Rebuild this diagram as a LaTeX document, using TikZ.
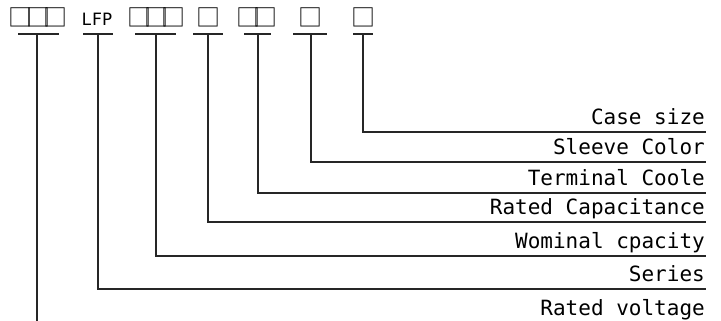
\documentclass[tikz,border=0pt]{standalone}
\usepackage{fontspec}
\setmonofont{DejaVu Sans Mono}
\newfontfamily\sqfont{Noto Sans CJK SC}
\tikzset{
    every node/.style={inner sep=0pt, font=\ttfamily}
}
\tikzset{
    code/.style={anchor=base, font=\fontsize{17}{17}\selectfont\ttfamily},
    slot/.style={anchor=base, font=\fontsize{24}{24}\selectfont\sqfont},
    item/.style={anchor=south east, text depth=0pt, inner xsep=1pt,
    	inner ysep=7pt, font=\fontsize{21}{21}\selectfont\ttfamily}
}
\tikzset{
    wire/.style={line width=1.3pt, draw=black!85}
}

\begin{document}
\begin{tikzpicture}[x=1pt,y=-1pt]
	\useasboundingbox (0,0) rectangle (721,321);
	\node (c1) [slot] at (38,27) {□\kern-7pt□\kern-7pt□};
	\node (c2) [code] at (97,26) {LFP};
	\node (c3) [slot] at (156,27) {□\kern-7pt□\kern-7pt□};
	\node (c4) [slot] at (208,27) {□};
	\node (c5) [slot] at (257,27) {□\kern-7pt□};
	\node (c6) [slot] at (310,27) {□};
	\node (c7) [slot] at (363,27) {□};
	
	\coordinate (b1) at (37,34); \coordinate (b2) at (98,34);
	\coordinate (b3) at (156,34); \coordinate (b4) at (208,34);
	\coordinate (b5) at (258,34); \coordinate (b6) at (311,34);
	\coordinate (b7) at (363,34); \coordinate (e1) at (37,321);
	
	\draw [wire] (18,34) -- (59,34); \draw [wire] (83,34) -- (113,34);
	\draw [wire] (135,34) -- (176,34); \draw [wire] (193,34) -- (223,34);
	\draw [wire] (244,34) -- (271,34); \draw [wire] (293,34) -- (327,34);
	\draw [wire] (353,34) -- (373,34);
	
	\node (l7) [item] at (706,132) {Case size};
	\node (l6) [item] at (706,162) {Sleeve Color};
	\node (l5) [item] at (706,193) {Terminal Coole};
	\node (l4) [item] at (706,222) {Rated Capacitance};
	\node (l3) [item] at (706,256) {Wominal cpacity};
	\node (l2) [item] at (706,289) {Series};
	\node (l1) [item] at (706,323) {Rated voltage};
	
	\draw [wire] (b7) |- (l7.south east); \draw [wire] (b6) |- (l6.south east);
	\draw [wire] (b5) |- (l5.south east); \draw [wire] (b4) |- (l4.south east);
	\draw [wire] (b3) |- (l3.south east); \draw [wire] (b2) |- (l2.south east);
	\draw [wire] (b1) -- (e1);
\end{tikzpicture}
\end{document}
